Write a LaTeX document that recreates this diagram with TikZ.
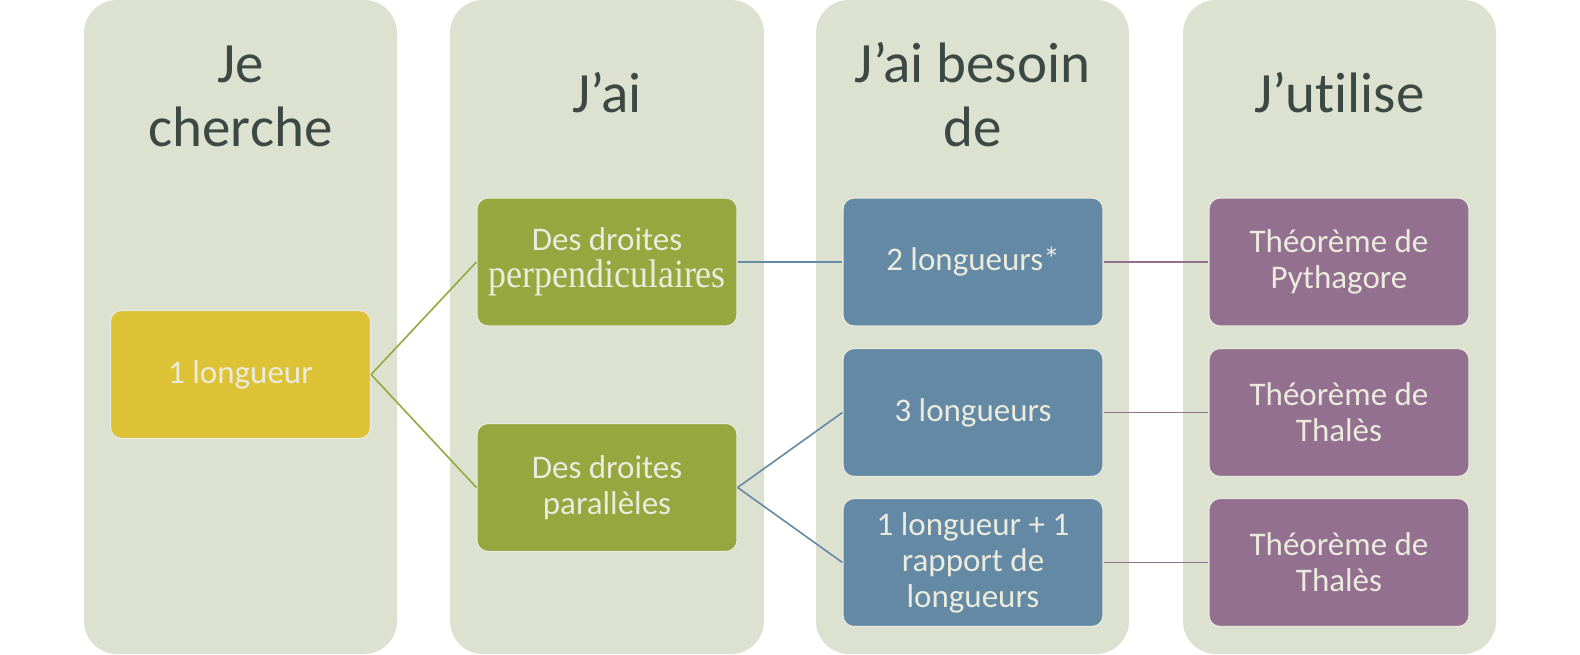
\documentclass[tikz,border=0pt]{standalone}
\usepackage{fontspec}
\usepackage{graphicx}
\setmainfont{Carlito}[Ligatures={NoCommon}]
\newfontfamily\serifalt{Liberation Serif}
\definecolor{colbg}{HTML}{DDE1CF}
\definecolor{titlecol}{HTML}{3B4843}
\definecolor{txtcol}{HTML}{EAEBDC}
\definecolor{yel}{HTML}{DDC236}
\definecolor{grn}{HTML}{96A73F}
\definecolor{blu}{HTML}{6489A4}
\definecolor{pur}{HTML}{937090}
\definecolor{edgecol}{HTML}{E6E9DD}
\tikzset{
  colbox/.style={fill=colbg, rounded corners=33pt},
  title/.style={text=titlecol, font=\fontsize{57}{64}\selectfont, align=center, inner sep=0pt},
  box/.style={rounded corners=11pt, minimum width=260pt, minimum height=128pt,
    draw=edgecol, line width=1.2pt, text=txtcol,
    font=\fontsize{33}{36}\selectfont, align=center, inner sep=0pt},
  conn/.style={line width=1.6pt}
}
\begin{document}
\begin{tikzpicture}[x=1pt,y=-1pt]
\useasboundingbox (0,0) rectangle (1580,654);
% columns
\path[colbox] (84,0) rectangle (397,654);
\path[colbox] (450,0) rectangle (764,654);
\path[colbox] (816,0) rectangle (1129,654);
\path[colbox] (1183,0) rectangle (1496,654);
% titles
\node[title] (t1) at (240.5,96.5) {Je\\cherche};
\node[title] (t2) at (607,93) {J’ai};
\node[title] (t3) at (972.5,95) {J’ai besoin\\de};
\node[title] (t4) at (1339.5,93) {J’utilise};
% boxes
\node[box, fill=yel] (a) at (240.5,374.5) {1 longueur};
\node[box, fill=grn] (b1) at (607,262) {Des droites\\[1pt]{\fontsize{40}{36}\serifalt\scalebox{0.9}[1]{perpendiculaires}}};
\node[box, fill=grn] (b2) at (607,487.5) {Des droites\\parallèles};
\node[box, fill=blu] (c1) at (973,262) {2 longueurs*};
\node[box, fill=blu] (c2) at (973,412.5) {3 longueurs};
\node[box, fill=blu] (c3) at (973,562.5) {1 longueur + 1\\rapport de\\longueurs};
\node[box, fill=pur] (d1) at (1339,262) {Théorème de\\Pythagore};
\node[box, fill=pur] (d2) at (1339,412.5) {Théorème de\\Thalès};
\node[box, fill=pur] (d3) at (1339,562.5) {Théorème de\\Thalès};
% connectors
\draw[conn, grn] (a.east) -- (b1.west);
\draw[conn, grn] (a.east) -- (b2.west);
\draw[conn, blu] (b1.east) -- (c1.west);
\draw[conn, blu] (b2.east) -- (c2.west);
\draw[conn, blu] (b2.east) -- (c3.west);
\draw[conn, pur] (c1.east) -- (d1.west);
\draw[conn, pur] (c2.east) -- (d2.west);
\draw[conn, pur] (c3.east) -- (d3.west);
\end{tikzpicture}
\end{document}
